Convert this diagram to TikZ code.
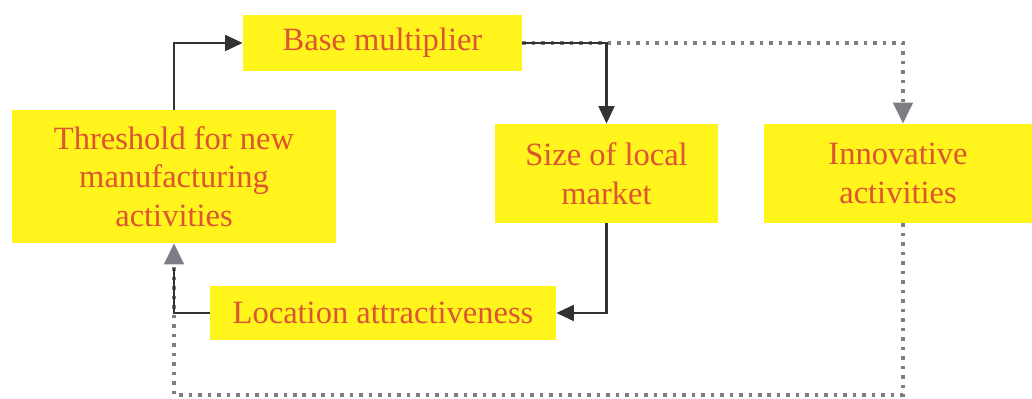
\documentclass[tikz,border=0pt]{standalone}
\usepackage{fontspec}
\setmainfont{Liberation Serif}
\usetikzlibrary{positioning}
\usetikzlibrary{arrows.meta}

\definecolor{boxyellow}{RGB}{255,244,28}
\definecolor{labelred}{RGB}{220,84,50}
\definecolor{linkgray}{RGB}{125,125,133}
\definecolor{linkdark}{RGB}{50,50,50}

\tikzset{
  box/.style={rectangle, fill=boxyellow, text=labelred, align=center, inner sep=0pt,
              font=\fontsize{18.5}{22}\selectfont},
  mainlink/.style={draw=linkdark, line width=1.5pt, -{Triangle[length=10pt,width=9pt]}},
  sidelink/.style={draw=linkgray, line width=2.2pt, dash pattern=on 2pt off 3.4pt,
                   -{Triangle[length=12pt,width=11pt]}}
}

\begin{document}
\begin{tikzpicture}

\useasboundingbox (0,0) rectangle (20.64,7.98);

\node[box, minimum width=5.58cm, minimum height=1.12cm] (base) at (7.65,7.12) {Base multiplier};

\node[box, minimum width=6.48cm, minimum height=2.66cm] (thresh) at (3.48,4.45) {Threshold for new\\manufacturing\\activities};

\node[box, minimum width=4.46cm, minimum height=1.98cm] (size) at (12.13,4.51) {Size of local\\market};

\node[box, minimum width=5.36cm, minimum height=1.98cm] (innov) at (17.96,4.51) {Innovative\\activities};

\node[box, minimum width=6.92cm, minimum height=1.08cm] (loc) at (7.66,1.72) {Location attractiveness};

\coordinate (low) at (0,0.08);

% innovation side
\draw[sidelink] (base.east) -| ([xshift=0.1cm]innov.north);
\draw[sidelink] ([xshift=0.1cm]innov.south) -- ([xshift=0.1cm]innov.south |- low) -| (thresh.south);

% main loop
\draw[mainlink] (thresh.north) |- (base.west);
\draw[mainlink] (base.east) -| (size.north);
\draw[mainlink] (size.south) |- (loc.east);
\draw[draw=linkdark, line width=1.5pt] (loc.west) -| ([yshift=-14pt]thresh.south);

\end{tikzpicture}
\end{document}
